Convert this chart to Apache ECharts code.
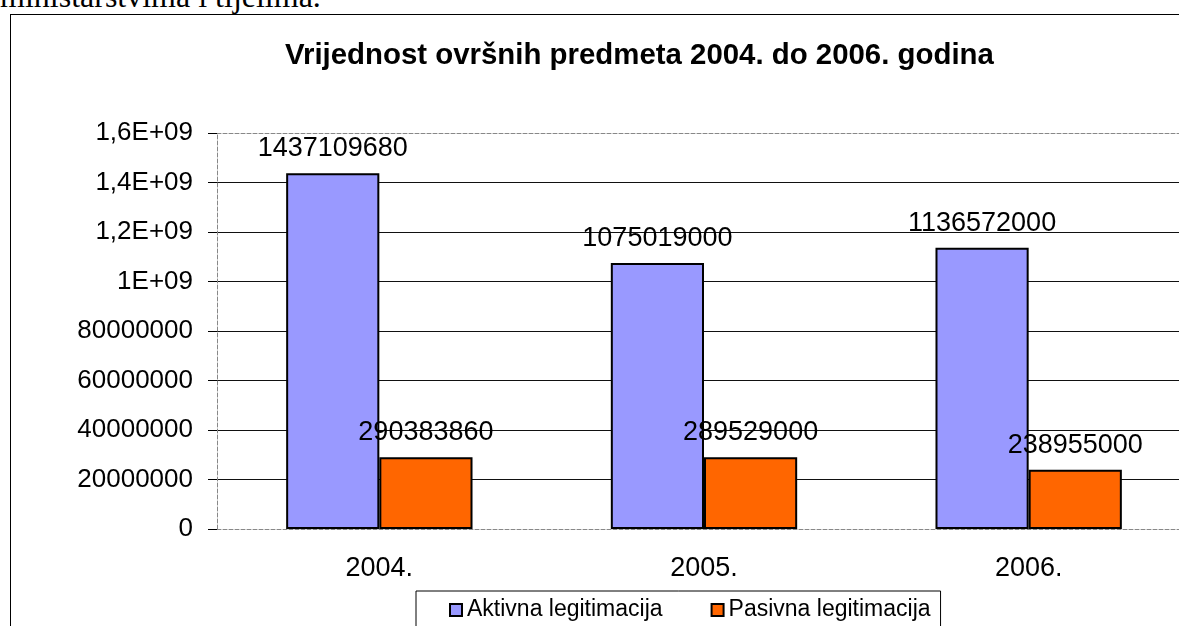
<!DOCTYPE html>
<html>
<head>
<meta charset="utf-8">
<script src="https://cdn.jsdelivr.net/npm/echarts@6/dist/echarts.min.js"></script>
<style>
    html, body { margin: 0; padding: 0; background: #fff; overflow: hidden; }
    #page { position: relative; width: 1179px; height: 626px; overflow: hidden; }
    #line { position: absolute; left: 0; top: -22px; font-family: 'Liberation Serif', 'Times New Roman', serif; font-size: 32px; white-space: nowrap; }
    #frame { position: absolute; left: 10px; top: 14px; width: 1300px; height: 700px; border: 1.5px solid #000; }
    #chart { position: absolute; left: 0; top: 0; width: 1210px; height: 660px; }
</style>
</head>
<body>
<div id="page">
    <div id="line">ministarstvima i tijelima.</div>
    <div id="frame"></div>
    <div id="chart"></div>
</div>
<script>
var years = ['2004.', '2005.', '2006.'];
var aktivna = [1437109680, 1075019000, 1136572000];
var pasivna = [290383860, 289529000, 238955000];
// Excel je tako ispisao oznake osi
var yTickLabels = ['0', '20000000', '40000000', '60000000', '80000000', '1E+09', '1,2E+09', '1,4E+09', '1,6E+09'];

var font = "'Liberation Sans', Arial, sans-serif";

// chart div je malo veci od prozora, desni rub grafa je izvan slike
var chart = echarts.init(document.getElementById('chart'));
chart.setOption({
    animation: false,
    title: {
        text: 'Vrijednost ovršnih predmeta 2004. do 2006. godina',
        left: 285,
        top: 41,
        padding: 0,
        textStyle: { fontFamily: font, fontSize: 29.4, fontWeight: 'bold', color: '#000' }
    },
    legend: {
        data: ['Aktivna legitimacija', 'Pasivna legitimacija'],
        left: 416,
        top: 591,
        padding: [7, 10, 40, 33],
        itemGap: 48,
        itemWidth: 12,
        itemHeight: 12,
        icon: 'rect',
        borderColor: '#000',
        borderWidth: 1,
        backgroundColor: '#fff',
        textStyle: { fontFamily: font, fontSize: 23, color: '#000', lineHeight: 24 }
    },
    grid: {
        left: 217,
        top: 133,
        width: 974,
        height: 396
    },
    xAxis: [{
        type: 'category',
        data: years,
        axisLine: { lineStyle: { color: '#888', type: [4, 2] } },
        axisTick: { length: 8, lineStyle: { color: '#000' } },
        axisLabel: { fontFamily: font, fontSize: 27, color: '#000', margin: 26 }
    }, {
        type: 'category',
        position: 'top',
        data: years,
        axisLine: { lineStyle: { color: '#888', type: [4, 2] } },
        axisTick: { show: false },
        axisLabel: { show: false }
    }],
    yAxis: {
        type: 'value',
        min: 0,
        max: 1600000000,
        interval: 200000000,
        axisLine: { show: true, lineStyle: { color: '#888', type: [4, 2] } },
        axisTick: { show: true, length: 9, lineStyle: { color: '#000' } },
        axisLabel: {
            fontFamily: font, fontSize: 26, color: '#000', margin: 24,
            formatter: function (v) {
                return yTickLabels[Math.round(v / 200000000)];
            }
        },
        splitLine: { show: true, showMinLine: false, showMaxLine: false, lineStyle: { color: '#111', width: 1.2 } }
    },
    series: [{
        name: 'Aktivna legitimacija',
        type: 'bar',
        data: aktivna,
        barGap: '0%',
        barCategoryGap: '42.6%',
        itemStyle: { color: '#9999ff', borderColor: '#000', borderWidth: 2 },
        label: { show: true, position: 'top', distance: 11, fontFamily: font, fontSize: 27, color: '#000' }
    }, {
        name: 'Pasivna legitimacija',
        type: 'bar',
        data: pasivna,
        itemStyle: { color: '#ff6600', borderColor: '#000', borderWidth: 2 },
        label: { show: true, position: 'top', distance: 11, fontFamily: font, fontSize: 27, color: '#000' }
    }]
});
</script>
</body>
</html>
